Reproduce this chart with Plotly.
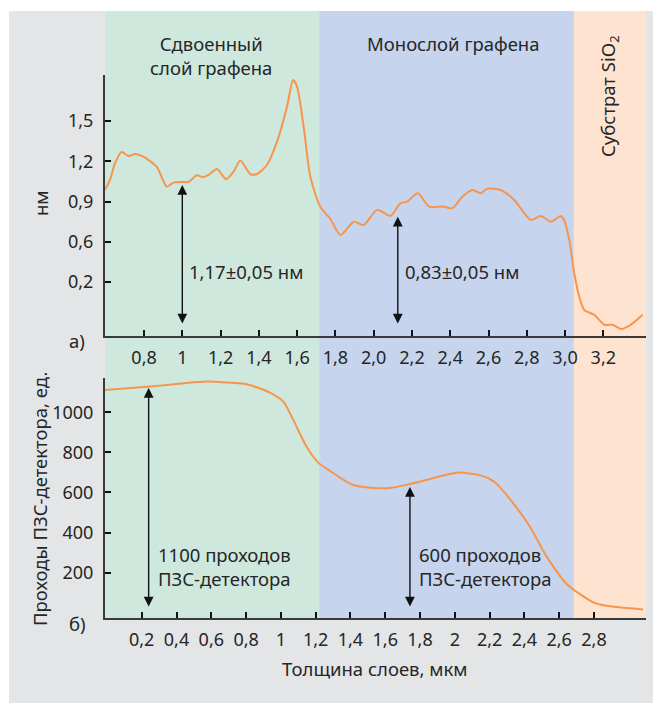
import plotly.graph_objects as go

# ---------------- data ----------------
# top panel (a): height profile, nm vs position
top_x = [0.596, 0.622, 0.648, 0.683, 0.718, 0.753, 0.796, 0.866, 0.919, 0.953, 0.997, 1.032,
         1.076, 1.110, 1.137, 1.181, 1.229, 1.268, 1.303, 1.355, 1.390, 1.442, 1.495, 1.547,
         1.579, 1.600, 1.634, 1.669, 1.721, 1.774, 1.826, 1.896, 1.948, 2.018, 2.088, 2.140,
         2.175, 2.231, 2.289, 2.367, 2.411, 2.463, 2.516, 2.559, 2.594, 2.664, 2.734, 2.821,
         2.873, 2.926, 2.978, 2.995, 3.022, 3.048, 3.074, 3.100, 3.152, 3.205, 3.248, 3.292,
         3.344, 3.405]
top_y = [0.986, 1.061, 1.185, 1.269, 1.239, 1.254, 1.234, 1.160, 1.011, 1.041, 1.046, 1.046,
         1.096, 1.081, 1.098, 1.143, 1.066, 1.123, 1.205, 1.105, 1.105, 1.172, 1.346, 1.607,
         1.805, 1.755, 1.458, 1.085, 0.862, 0.770, 0.651, 0.750, 0.726, 0.838, 0.793, 0.887,
         0.899, 0.962, 0.862, 0.862, 0.850, 0.936, 0.986, 0.962, 0.996, 0.986, 0.912, 0.763,
         0.793, 0.750, 0.793, 0.763, 0.614, 0.366, 0.192, 0.093, 0.056, -0.018, -0.018, -0.050,
         -0.018, 0.056]

# bottom panel (b): CCD passes vs thickness
bot_x = [-0.011, 0.248, 0.401, 0.574, 0.689, 0.803, 0.937, 1.014, 1.071, 1.148, 1.215, 1.282,
         1.416, 1.608, 1.742, 1.857, 2.010, 2.154, 2.230, 2.336, 2.432, 2.528, 2.643, 2.796,
         2.872, 3.083]
bot_y = [1111, 1128, 1141, 1153, 1148, 1140, 1098, 1053, 962, 828, 749, 708,
         637, 621, 642, 667, 699, 684, 651, 546, 429, 280, 144, 52,
         35, 17]

# tick labels
top_xtick_vals = [0.8, 1.0, 1.2, 1.4, 1.6, 1.8, 2.0, 2.2, 2.4, 2.6, 2.8, 3.0, 3.2]
top_xtick_text = ["0,8", "1", "1,2", "1,4", "1,6", "1,8", "2,0", "2,2", "2,4", "2,6", "2,8", "3,0", "3,2"]
top_ytick_vals = [0.3, 0.6, 0.9, 1.2, 1.5]
top_ytick_text = ["0,2", "0,6", "0,9", "1,2", "1,5"]
bot_xtick_vals = [0.2, 0.4, 0.6, 0.8, 1.0, 1.2, 1.4, 1.6, 1.8, 2.0, 2.2, 2.4, 2.6, 2.8]
bot_xtick_text = ["0,2", "0,4", "0,6", "0,8", "1", "1,2", "1,4", "1,6", "1,8", "2", "2,2", "2,4", "2,6", "2,8"]
bot_ytick_vals = [200, 400, 600, 800, 1000]
bot_ytick_text = ["200", "400", "600", "800", "1000"]

# region boundaries (top-axis units)
region_edges = [0.596, 1.716, 3.046, 3.423]
region_names = ["Сдвоенный<br>слой графена", "Монослой графена", "Субстрат SiO<sub>2</sub>"]

# measurement arrows
top_arrow_x = [1.0, 2.126]
top_arrow_top = [1.023, 0.787]
top_arrow_bottom = [-0.02, -0.02]
top_arrow_text = ["1,17±0,05 нм", "0,83±0,05 нм"]
bot_arrow_x = [0.24, 1.742]
bot_arrow_top = [1121, 627]
bot_arrow_bottom = [24, 24]
bot_arrow_text = ["1100 проходов<br>ПЗС-детектора", "600 проходов<br>ПЗС-детектора"]

# ---------------- style ----------------
FONT = "Noto Sans"
TXT = "#262626"
AX = "#3a3a3a"
LINE = "#F6954B"
BAND_COLORS = ["#CFE8DE", "#C6D4EE", "#FEE4D0"]
GRAY = "#E4E5E7"

OFF = 8  # page body margin of the html page
W, H = 661 - OFF, 703 - OFF
ML, MT = 105 - OFF, 11 - OFF
MR = W - (646 - OFF)
MB = H - (618 - OFF)
PW, PH = W - ML - MR, H - MT - MB


def px(xp):
    return (xp - OFF - ML) / PW


def py(yp):
    return (H - MB - (yp - OFF)) / PH


def txt(text, x, y, size=18.5, angle=0, **kw):
    return dict(text=text, xref="paper", yref="paper", x=px(x), y=py(y), showarrow=False,
                xanchor="center", yanchor="middle", textangle=angle,
                font=dict(size=size, color=TXT, family=FONT), **kw)


fig = go.Figure()
fig.add_trace(go.Scatter(x=top_x, y=top_y, mode="lines", xaxis="x", yaxis="y",
                         line=dict(color=LINE, width=2, shape="spline", smoothing=0.7),
                         hoverinfo="skip", showlegend=False))
fig.add_trace(go.Scatter(x=bot_x, y=bot_y, mode="lines", xaxis="x2", yaxis="y2",
                         line=dict(color=LINE, width=2, shape="spline", smoothing=0.7),
                         hoverinfo="skip", showlegend=False))

shapes = [dict(type="rect", xref="paper", yref="paper", x0=px(9), x1=px(665), y0=py(708), y1=py(11),
               fillcolor=GRAY, line=dict(width=0), layer="below")]
for i in range(3):
    shapes.append(dict(type="rect", xref="x", yref="paper", x0=region_edges[i], x1=region_edges[i + 1],
                       y0=0, y1=1, fillcolor=BAND_COLORS[i], line=dict(width=0), layer="below"))

annotations = [
    txt(region_names[0], 211, 56, align="center"),
    txt(region_names[1], 453, 44),
    txt(region_names[2], 609, 96, angle=-90),
    txt("а)", 77, 340),
    txt("б)", 77, 623),
    txt("нм", 40, 203, angle=-90),
    txt("Проходы ПЗС-детектора, ед.", 39, 499, angle=-90),
    txt("Толщина слоев, мкм", 375, 668),
]

# arrows
for xa, ya, xs, ytop, ybot in [("x", "y", top_arrow_x, top_arrow_top, top_arrow_bottom),
                               ("x2", "y2", bot_arrow_x, bot_arrow_top, bot_arrow_bottom)]:
    for xv, t, b in zip(xs, ytop, ybot):
        annotations.append(dict(x=xv, y=t, ax=xv, ay=b, xref=xa, yref=ya, axref=xa, ayref=ya, text="",
                                showarrow=True, arrowhead=2, arrowside="end+start", arrowsize=1.4,
                                arrowwidth=1.4, arrowcolor="#111111", standoff=0, startstandoff=0))

for xv, tx in zip(top_arrow_x, top_arrow_text):
    annotations.append(dict(x=xv, y=0.375, xref="x", yref="y", text=tx, showarrow=False, xanchor="left",
                            yanchor="middle", xshift=5, font=dict(size=18.5, color=TXT, family=FONT)))
for xv, tx in zip(bot_arrow_x, bot_arrow_text):
    annotations.append(dict(x=xv, y=233, xref="x2", yref="y2", text=tx, showarrow=False, xanchor="left",
                            yanchor="middle", xshift=7, align="left",
                            font=dict(size=18.5, color=TXT, family=FONT)))

axis_common = dict(showline=True, linecolor=AX, linewidth=2, ticks="inside", ticklen=6, tickwidth=2,
                   tickcolor="#111111", showgrid=False, zeroline=False, tickmode="array",
                   tickfont=dict(size=18, color=TXT, family=FONT))

fig.update_layout(
    width=W, height=H,
    margin=dict(l=ML, r=MR, t=MT, b=MB, autoexpand=False),
    paper_bgcolor="white", plot_bgcolor="rgba(0,0,0,0)",
    showlegend=False,
    shapes=shapes, annotations=annotations,
    xaxis=dict(domain=[0, 1], anchor="y", range=[0.596, 3.423], tickvals=top_xtick_vals,
               ticktext=top_xtick_text, ticklabelstandoff=4, **axis_common),
    yaxis=dict(domain=[py(336), py(75)], anchor="x", range=[-0.102, 1.843], tickvals=top_ytick_vals,
               ticktext=top_ytick_text, ticklabelstandoff=6, **axis_common),
    xaxis2=dict(domain=[0, 1], anchor="y2", range=[-0.011, 3.099], tickvals=bot_xtick_vals,
                ticktext=bot_xtick_text, ticklabelstandoff=4, **axis_common),
    yaxis2=dict(domain=[0, py(378)], anchor="x2", range=[-26, 1171], tickvals=bot_ytick_vals,
                ticktext=bot_ytick_text, ticklabelstandoff=6, **axis_common),
)

fig.write_html("out.html")
